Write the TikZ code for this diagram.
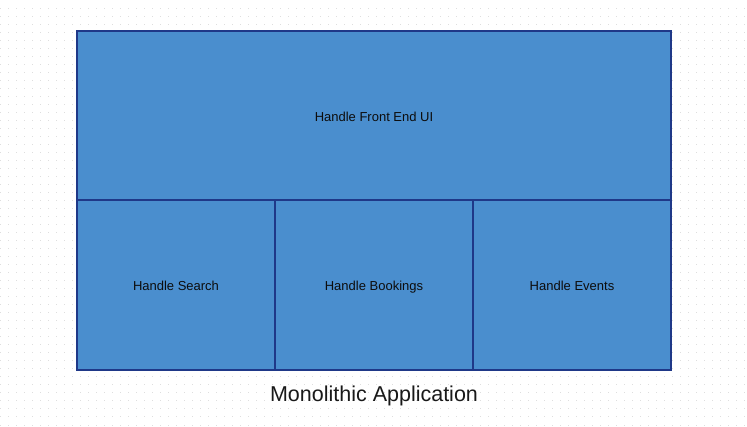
\documentclass[tikz,border=0pt]{standalone}
\usepackage{fontspec}
\setmainfont{Liberation Sans}
\usetikzlibrary{positioning}
\definecolor{boxfill}{RGB}{74,142,206}
\definecolor{boxline}{RGB}{31,56,136}
\definecolor{griddot}{RGB}{222,222,222}
\tikzset{
  block/.style={draw=boxline, fill=boxfill, line width=2pt, rectangle, outer sep=0pt,
    inner sep=0pt, text height=12pt, text depth=0pt, font=\fontsize{13}{15}\selectfont, text=black!95},
  caption/.style={font=\fontsize{21.5}{25}\selectfont, text=black!90, inner sep=0pt}
}
\begin{document}
\begin{tikzpicture}[x=1pt, y=1pt]
    \fill[white] (0,0) rectangle (747,-427);
    \useasboundingbox (0,0) rectangle (747,-427);
    % dotted background
    \foreach \row in {9,17,...,425}
        \draw[griddot, line width=1pt, dash pattern=on 1pt off 7pt] (0,-\row) -- (747,-\row);

    \node[block, minimum width=594pt, minimum height=169pt, anchor=north west] (ui) at (77,-31) {Handle Front End UI};
    \node[block, minimum width=198pt, minimum height=170pt, anchor=north west] (search) at (ui.south west) {Handle Search};
    \node[block, minimum width=198pt, minimum height=170pt, right=0pt of search] (bookings) {Handle Bookings};
    \node[block, minimum width=198pt, minimum height=170pt, right=0pt of bookings] (events) {Handle Events};

    \node[caption, yshift=-25.5pt] (title) at (bookings.south) {Monolithic Application};
\end{tikzpicture}
\end{document}
